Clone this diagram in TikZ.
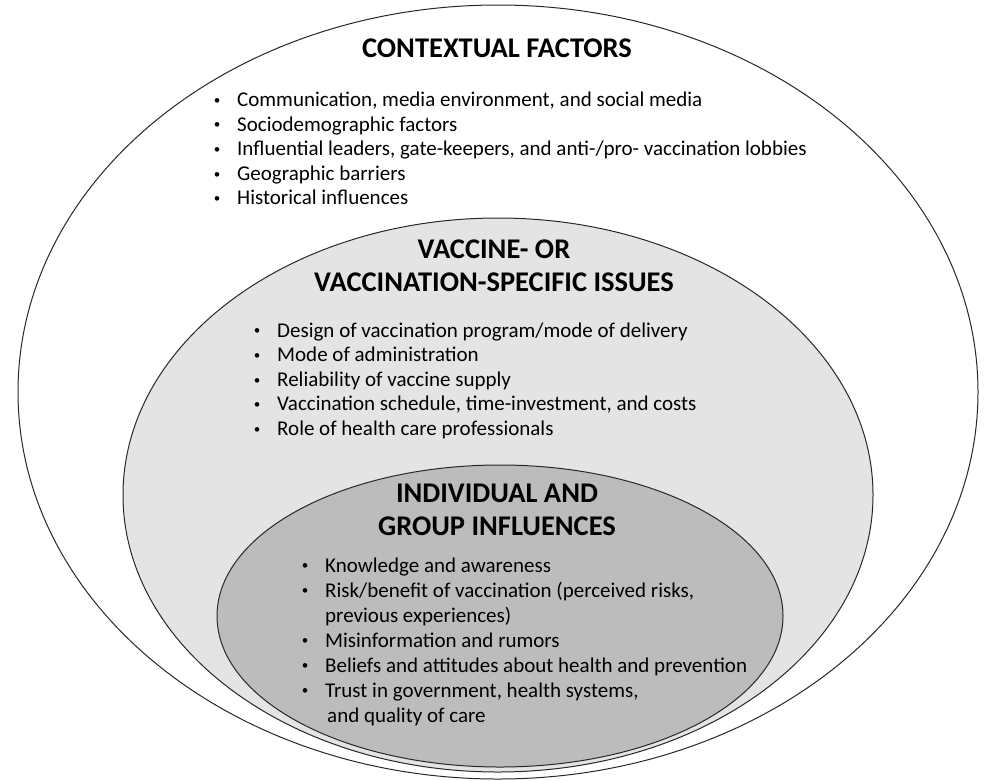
\documentclass[tikz,border=0pt]{standalone}
\usepackage{fontspec}
\setmainfont{Carlito}
\definecolor{midgray}{RGB}{228,228,228}
\definecolor{ingray}{RGB}{188,188,188}
\definecolor{edge}{RGB}{40,40,40}
\newcommand{\bitem}[1]{\llap{\makebox[0pt][c]{\raisebox{2.2pt}{\scalebox{0.62}{•}}}\hspace{20pt}}#1}
\begin{document}
\begin{tikzpicture}[x=1pt,y=-1pt,
  ring/.style={draw=edge,line width=1pt},
  item/.style={anchor=base west,inner sep=0pt,font=\fontsize{21}{25}\selectfont},
  ttl/.style={anchor=base,inner sep=0pt,font=\bfseries\fontsize{28.5}{33}\selectfont}]
\useasboundingbox (0,0) rectangle (987,780);
\fill[white] (0,0) rectangle (987,780);
% ellipses
\draw[ring,fill=white] (498,392) ellipse [x radius=480,y radius=387];
\draw[ring,fill=midgray] (498,495) ellipse [x radius=375,y radius=277];
\draw[ring,fill=ingray] (500,616) ellipse [x radius=283,y radius=151];
% outer
\node[ttl] (t1) at (497,57) {CONTEXTUAL FACTORS};
\node[item] (o1) at (237,106.5) {\bitem{Communication, media environment, and social media}};
\node[item] (o2) at (237,131.1) {\bitem{Sociodemographic factors}};
\node[item] (o3) at (237,155.7) {\bitem{Influential leaders, gate-keepers, and anti-/pro- vaccination lobbies}};
\node[item] (o4) at (237,180.3) {\bitem{Geographic barriers}};
\node[item] (o5) at (237,204.9) {\bitem{Historical influences}};
% middle
\node[ttl] (t2a) at (494,258) {VACCINE- OR};
\node[ttl] (t2b) at (494,291) {VACCINATION-SPECIFIC ISSUES};
\node[item] (m1) at (277,337) {\bitem{Design of vaccination program/mode of delivery}};
\node[item] (m2) at (277,361.6) {\bitem{Mode of administration}};
\node[item] (m3) at (277,386.2) {\bitem{Reliability of vaccine supply}};
\node[item] (m4) at (277,410.8) {\bitem{Vaccination schedule, time-investment, and costs}};
\node[item] (m5) at (277,435.4) {\bitem{Role of health care professionals}};
% inner
\node[ttl] (t3a) at (497,502) {INDIVIDUAL AND};
\node[ttl] (t3b) at (497,535) {GROUP INFLUENCES};
\node[item] (i1) at (325,572) {\bitem{Knowledge and awareness}};
\node[item] (i2) at (325,597) {\bitem{Risk/benefit of vaccination (perceived risks,}};
\node[item] (i2b) at (325,622) {previous experiences)};
\node[item] (i3) at (325,647) {\bitem{Misinformation and rumors}};
\node[item] (i4) at (325,672) {\bitem{Beliefs and attitudes about health and prevention}};
\node[item] (i5) at (325,697) {\bitem{Trust in government, health systems,}};
\node[item] (i5b) at (327,722) {and quality of care};
\end{tikzpicture}
\end{document}
